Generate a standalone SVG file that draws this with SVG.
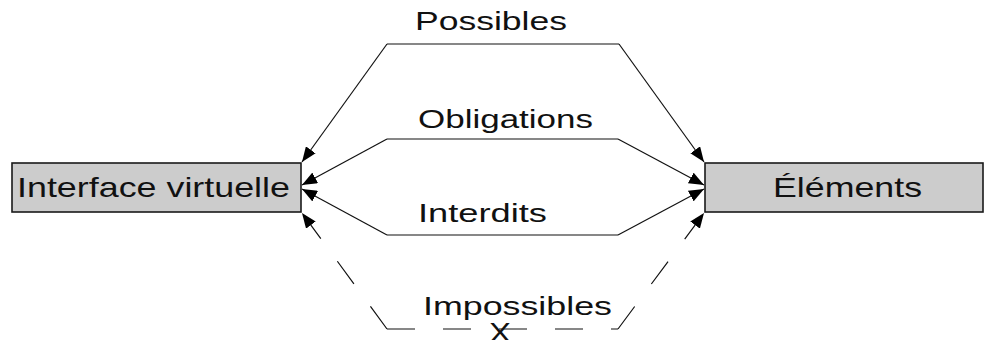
<svg xmlns="http://www.w3.org/2000/svg" width="986" height="340" viewBox="0 0 986 340">
<style>
.box{fill:#cccccc;stroke:#1a1a1a;stroke-width:1.6}
.t{font-family:"Liberation Sans",Arial,sans-serif;fill:#111}
.c{fill:none;stroke:#111;stroke-width:1.2}
.d{stroke-dasharray:28 28}
</style>
<defs>
<marker id="ah" viewBox="0 0 15 12" refX="15" refY="6" markerWidth="15" markerHeight="12" markerUnits="userSpaceOnUse" orient="auto">
<path d="M0,0 L15,6 L0,12 z" fill="#000"/>
</marker>
</defs>
<rect width="986" height="340" fill="#fff"/>
<g id="connectors">
<g id="possibles">
<path class="c" d="M387,44 L619,44"/>
<path class="c" d="M387,44 L302,162" marker-end="url(#ah)"/>
<path class="c" d="M619,44 L704,162" marker-end="url(#ah)"/>
<text class="t" x="415" y="30" font-size="26" textLength="152" lengthAdjust="spacingAndGlyphs">Possibles</text>
</g>
<g id="obligations">
<path class="c" d="M387,139 L618,139"/>
<path class="c" d="M387,139 L302,185" marker-end="url(#ah)"/>
<path class="c" d="M618,139 L704,185" marker-end="url(#ah)"/>
<text class="t" x="418" y="128" font-size="25" textLength="175" lengthAdjust="spacingAndGlyphs">Obligations</text>
</g>
<g id="interdits">
<path class="c" d="M387,235 L618,235"/>
<path class="c" d="M387,235 L302,189" marker-end="url(#ah)"/>
<path class="c" d="M618,235 L704,189" marker-end="url(#ah)"/>
<text class="t" x="418" y="222" font-size="26" textLength="129" lengthAdjust="spacingAndGlyphs">Interdits</text>
</g>
<g id="impossibles">
<path class="c d" d="M387,329 L618,329" stroke-dashoffset="0"/>
<path class="c d" d="M387,329 L302,213" stroke-dashoffset="0" marker-end="url(#ah)"/>
<path class="c d" d="M618,329 L704,213" stroke-dashoffset="0" marker-end="url(#ah)"/>
<text class="t" x="423" y="315" font-size="26" textLength="189" lengthAdjust="spacingAndGlyphs">Impossibles</text>
<text class="t" x="489" y="342" font-size="28" textLength="22" lengthAdjust="spacingAndGlyphs">X</text>
</g>
</g>
<g id="interface">
<rect class="box" x="12" y="163" width="289" height="49"/>
<text class="t" x="17" y="197" font-size="28" textLength="273" lengthAdjust="spacingAndGlyphs">Interface virtuelle</text>
</g>
<g id="elements">
<rect class="box" x="705" y="163" width="278" height="49"/>
<text class="t" x="773" y="197" font-size="28" textLength="149" lengthAdjust="spacingAndGlyphs">Éléments</text>
</g>
</svg>
